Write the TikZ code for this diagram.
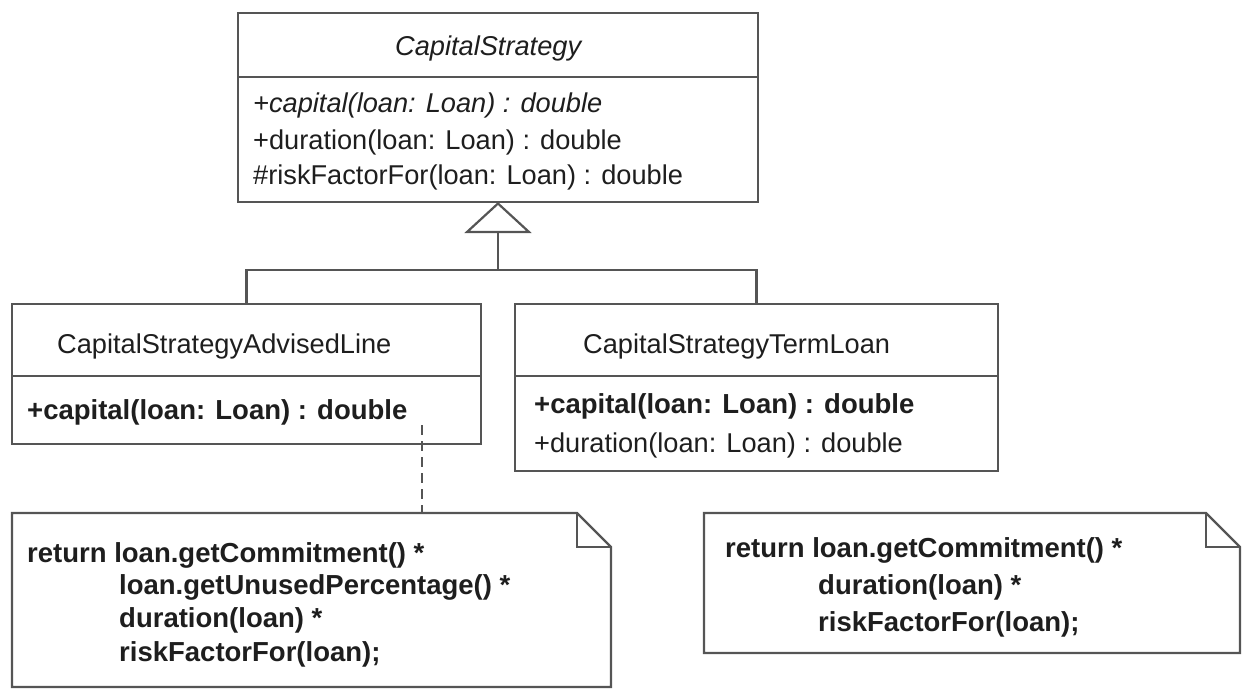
\documentclass[tikz,border=0pt]{standalone}
\usepackage{fontspec}
\setmainfont{Liberation Sans}
\usetikzlibrary{arrows.meta}
\definecolor{linec}{HTML}{555555}
\definecolor{txtc}{HTML}{1E1E1E}
\newcommand\umlfs{\fontsize{27.2}{33}\selectfont}
\newcommand\umlbf{\fontsize{27.5}{33}\selectfont\bfseries}
\tikzset{
  ln/.style={draw=linec, line width=2.2pt},
  boxshape/.style={ln, fill=white, inner sep=0pt, outer sep=0pt},
  notebox/.style={inner sep=0pt, outer sep=0pt},
  txt/.style={anchor=base west, inner sep=0pt, font=\umlfs, text=txtc},
  btxt/.style={txt, font=\umlbf},
  dashline/.style={ln, dash pattern=on 10pt off 6pt},
}
\begin{document}
\begin{tikzpicture}[x=1pt, y=-1pt]
\useasboundingbox (0,0) rectangle (1243,689);

% ---------- CapitalStrategy ----------
\node[boxshape, minimum width=520pt, minimum height=189pt] (cs) at (498,107.5) {};
\draw[ln] (cs.west |- 0,77) -- (cs.east |- 0,77);
\node[txt, font=\umlfs\itshape] (cst) at (395,55) {CapitalStrategy};
\node[txt, font=\umlfs\itshape] (cs1) at (253,112) {+capital(loan: Loan) : double};
\node[txt] (cs2) at (253,149) {+duration(loan: Loan) : double};
\node[txt] (cs3) at (253,184.5) {\#riskFactorFor(loan: Loan) : double};

% ---------- CapitalStrategyAdvisedLine ----------
\node[boxshape, minimum width=469pt, minimum height=140pt] (adv) at (246.5,374) {};
\draw[ln] (adv.west |- 0,376) -- (adv.east |- 0,376);
\node[txt] (advt) at (57,353) {CapitalStrategyAdvisedLine};
\node[btxt] (adv1) at (27,419) {+capital(loan: Loan) : double};

% ---------- CapitalStrategyTermLoan ----------
\node[boxshape, minimum width=483pt, minimum height=167pt] (term) at (756.5,387.5) {};
\draw[ln] (term.west |- 0,376) -- (term.east |- 0,376);
\node[txt] (termt) at (583,353) {CapitalStrategyTermLoan};
\node[btxt] (term1) at (534,413) {+capital(loan: Loan) : double};
\node[txt] (term2) at (534,452) {+duration(loan: Loan) : double};

% ---------- generalization ----------
\coordinate (j) at (cs.south |- 0,270);
\draw[ln] (adv.north) |- (j) -| (term.north);
\draw[ln, -{Triangle[open, length=31pt, width=67pt]}] (j) -- (cs.south);

% ---------- note 1 ----------
\node[notebox, minimum width=599pt, minimum height=174pt] (n1) at (311.5,600) {};
\draw[ln, fill=white] (n1.north west) -- ([xshift=-34pt]n1.north east)
  -- ([yshift=-34pt]n1.north east) -- (n1.south east) -- (n1.south west) -- cycle;
\draw[ln] ([xshift=-34pt]n1.north east) |- ([yshift=-34pt]n1.north east);
\node[btxt] (n1a) at (27,562) {return loan.getCommitment() *};
\node[btxt] (n1b) at (119,594) {loan.getUnusedPercentage() *};
\node[btxt] (n1c) at (119,627) {duration(loan) *};
\node[btxt] (n1d) at (119,661) {riskFactorFor(loan);};

% ---------- note 2 ----------
\node[notebox, minimum width=536pt, minimum height=140pt] (n2) at (972,583) {};
\draw[ln, fill=white] (n2.north west) -- ([xshift=-34pt]n2.north east)
  -- ([yshift=-34pt]n2.north east) -- (n2.south east) -- (n2.south west) -- cycle;
\draw[ln] ([xshift=-34pt]n2.north east) |- ([yshift=-34pt]n2.north east);
\node[btxt] (n2a) at (725,557) {return loan.getCommitment() *};
\node[btxt] (n2b) at (818,594) {duration(loan) *};
\node[btxt] (n2c) at (818,631) {riskFactorFor(loan);};

% ---------- note anchor ----------
\coordinate (dstart) at (422,425);
\draw[dashline] (dstart) -- (dstart |- n1.north);
\end{tikzpicture}
\end{document}
